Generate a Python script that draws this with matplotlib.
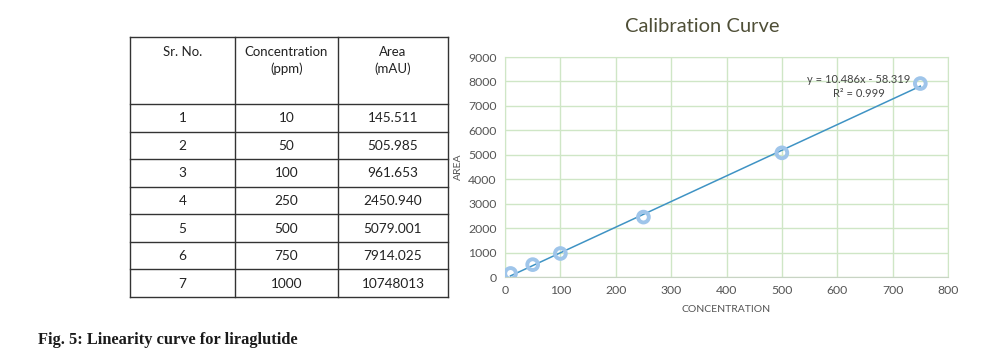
import numpy as np
import matplotlib.pyplot as plt

# table data
sr_no = [1, 2, 3, 4, 5, 6, 7]
conc_table = ['10', '50', '100', '250', '500', '750', '1000']
area_table = ['145.511', '505.985', '961.653', '2450.940', '5079.001', '7914.025', '10748013']
headers = ['Sr. No.', 'Concentration\n(ppm)', 'Area\n(mAU)']

# points plotted on the calibration curve
conc = np.array([10, 50, 100, 250, 500, 750])
area = np.array([145.511, 505.985, 961.653, 2450.940, 5079.001, 7914.025])
eq_text = 'y = 10.486x - 58.319\nR\u00b2 = 0.999'
xticks = np.arange(0, 900, 100)
yticks = np.arange(0, 10000, 1000)

plt.rcParams['font.family'] = ['Lato', 'DejaVu Sans']

fig = plt.figure(figsize=(9.93, 3.51), dpi=100)

# ---- table drawn by hand ----
tab = fig.add_axes([130 / 993, 1 - 297 / 351, 318 / 993, 260 / 351])
hh = 67 / 27.57  # header height in row units
col_edges = [0, 105, 208, 318]
n = len(sr_no)
tab.set_xlim(0, 318)
tab.set_ylim(hh + n, 0)
tab.axis('off')
for x in col_edges:
    tab.plot([x, x], [0, hh + n], color='#333333', lw=1.0, clip_on=False)
tab.plot([0, 318], [0, 0], color='#333333', lw=1.0, clip_on=False)
for i in range(n + 1):
    tab.plot([0, 318], [hh + i, hh + i], color='#333333', lw=1.0, clip_on=False)
centers = [(col_edges[j] + col_edges[j + 1]) / 2 for j in range(3)]
for j, h in enumerate(headers):
    tab.text(centers[j], 0.34, h, ha='center', va='top', fontsize=9.5,
             color='#222222', linespacing=1.4)
for i in range(n):
    row = [str(sr_no[i]), conc_table[i], area_table[i]]
    for j, v in enumerate(row):
        tab.text(centers[j], hh + i + 0.52, v, ha='center', va='center',
                 fontsize=9.8, color='#222222')

# ---- calibration chart ----
ax = fig.add_axes([505 / 993, 1 - 277 / 351, 443 / 993, 220 / 351])
slope, icpt = np.polyfit(conc, area, 1)
xl = np.array([conc.min(), conc.max()])
ax.plot(xl, slope * xl + icpt, color='#3f93c4', lw=1.1, zorder=3)
ax.scatter(conc, area, s=60, facecolors='none', edgecolors='#9fc5ea',
           linewidths=2.8, zorder=4)
ax.set_xlim(0, 800)
ax.set_ylim(0, 9000)
ax.set_xticks(xticks)
ax.set_yticks(yticks)
ax.grid(True, color='#cfe6c6', lw=1.0)
ax.set_axisbelow(True)
for s in ['top', 'right', 'left']:
    ax.spines[s].set_color('#cfe6c6')
ax.spines['bottom'].set_color('#c8d4c4')
ax.tick_params(length=0, labelsize=8.8, colors='#555555', pad=6)
ax.set_xlabel('CONCENTRATION', fontsize=7.5, color='#555555', labelpad=6)
ax.set_ylabel('AREA', fontsize=7.5, color='#555555', labelpad=4)
ax.text(639, 7810, eq_text, ha='center', va='center', fontsize=8,
        color='#444444', linespacing=1.35)
fig.text(702 / 993, 1 - 27 / 351, 'Calibration Curve', ha='center', va='center',
         fontsize=14.5, color='#4f4f37')

fig.text(38 / 993, 1 - 340 / 351, 'Fig. 5: Linearity curve for liraglutide',
         ha='left', va='center', fontsize=11.8, fontweight='bold',
         family='Liberation Serif', color='#1a1a1a')

fig.savefig('out.png', dpi=100)
